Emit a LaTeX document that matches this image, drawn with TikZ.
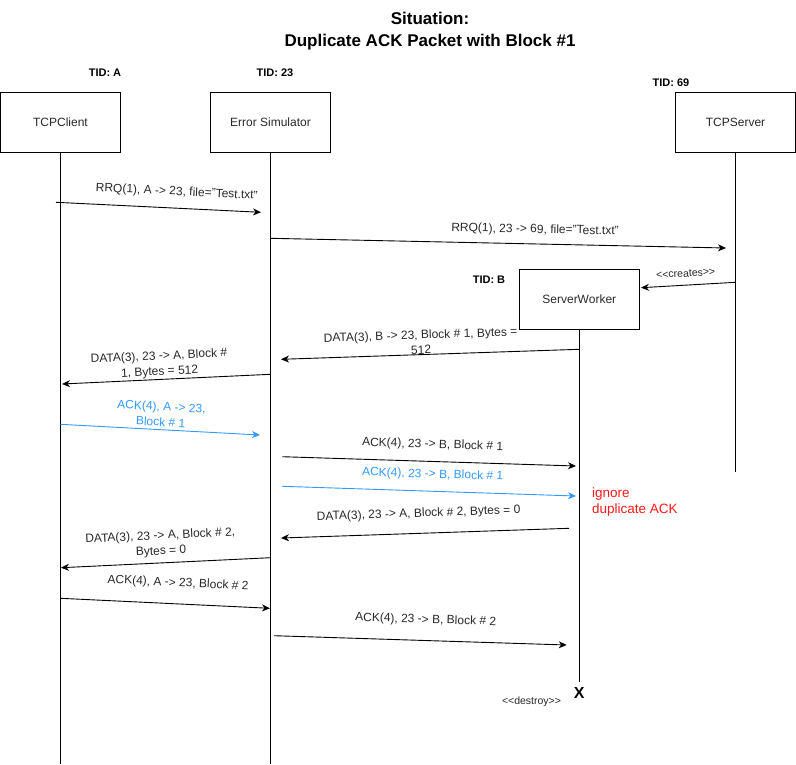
\documentclass[tikz,border=0pt]{standalone}
\usepackage{fontspec}
\setmainfont{Liberation Sans}
\usetikzlibrary{arrows.meta,positioning}

\definecolor{ackblue}{RGB}{51,153,255}
\definecolor{ignred}{RGB}{255,26,26}
\definecolor{txtgray}{RGB}{40,40,40}

\begin{document}
\begin{tikzpicture}[
      x=1pt, y=-1pt,
      obj/.style={rectangle,draw,line width=0.9pt,minimum width=120pt,minimum height=60pt,
        inner sep=0pt,font=\fontsize{12}{14}\selectfont,text=txtgray},
      tid/.style={font=\fontsize{11}{13}\selectfont\bfseries},
      life/.style={line width=0.9pt},
      msg/.style={line width=0.9pt,-{Stealth[length=8pt,width=7pt,inset=2.5pt]}},
      lbl/.style={sloped,align=center,inner sep=0pt,font=\fontsize{12}{15.5}\selectfont,text=txtgray},
      small/.style={font=\fontsize{10.5}{12}\selectfont,text=txtgray,inner sep=0pt}
    ]
    \useasboundingbox (0,0) rectangle (796,764);

    % Title
    \node[align=center,font=\fontsize{17}{22}\selectfont\bfseries] (title) at (430,31)
      {Situation:\\Duplicate ACK Packet with Block \#1};

    % Participants
    \node[obj] (client) at (60.5,122) {TCPClient};
    \node[obj] (sim) at (270.5,122) {Error Simulator};
    \node[obj] (server) at (735.5,122) {TCPServer};
    \node[obj] (worker) at (579.3,299) {ServerWorker};

    \node[tid] (tidA) at (105,73) {TID: A};
    \node[tid] (tid23) at (275,73) {TID: 23};
    \node[tid] (tid69) at (671,83) {TID: 69};
    \node[tid] (tidB) at (489,280) {TID: B};

    % Lifelines
    \coordinate (clientEnd) at (60.5,764);
    \coordinate (simEnd) at (270.5,764);
    \coordinate (serverEnd) at (735.5,472);
    \coordinate (workerEnd) at (579.3,682);
    \draw[life] (client.south) -- (clientEnd);
    \draw[life] (sim.south) -- (simEnd);
    \draw[life] (server.south) -- (serverEnd);
    \draw[life] (worker.south) -- (workerEnd);

    % Read request
    \coordinate (m1a) at (56,202.3);   \coordinate (m1b) at (261,212.3);
    \draw[msg] (m1a) -- node[lbl,pos=0.585,yshift=16pt]{RRQ(1), A -> 23, file="Test.txt"} (m1b);
    \coordinate (m2a) at (270.5,238.3); \coordinate (m2b) at (726,248);
    \draw[msg] (m2a) -- node[lbl,pos=0.58,yshift=14pt]{RRQ(1), 23 -> 69, file="Test.txt"} (m2b);
    \coordinate (m3a) at (735.5,282.3); \coordinate (m3b) at (641,287.7);
    \draw[msg] (m3a) -- node[small,sloped,pos=0.52,yshift=11.5pt]{{<}{<}creates{>}{>}} (m3b);

    % First data block
    \coordinate (m4a) at (579.3,349.3); \coordinate (m4b) at (281,359.3);
    \draw[msg] (m4a) -- node[lbl,pos=0.53,yshift=12.5pt,font=\fontsize{12}{15}\selectfont]
      {DATA(3), B -> 23, Block \# 1, Bytes =\\512} (m4b);
    \coordinate (m5a) at (270.5,374.3); \coordinate (m5b) at (62,384);
    \draw[msg] (m5a) -- node[lbl,pos=0.53,yshift=15pt]{DATA(3), 23 -> A, Block \#\\1, Bytes = 512} (m5b);

    % Acknowledgements, one duplicated
    \coordinate (m6a) at (60.5,424.3); \coordinate (m6b) at (260,435);
    \draw[msg,ackblue] (m6a) -- node[lbl,text=ackblue,pos=0.5,yshift=15.5pt]{ACK(4), A -> 23,\\Block \# 1} (m6b);
    \coordinate (m7a) at (282.3,456.7); \coordinate (m7b) at (576,466);
    \draw[msg] (m7a) -- node[lbl,pos=0.51,yshift=16.5pt]{ACK(4), 23 -> B, Block \# 1} (m7b);
    \coordinate (m8a) at (282.3,486.3); \coordinate (m8b) at (576,496);
    \draw[msg,ackblue] (m8a) -- node[lbl,text=ackblue,pos=0.51,yshift=16.5pt]{ACK(4), 23 -> B, Block \# 1} (m8b);

    \node[anchor=west,align=left,inner sep=0pt,text=ignred,font=\fontsize{13.5}{16}\selectfont] (ignore)
      at (592,502) {ignore\\duplicate ACK};

    % Last data block
    \coordinate (m9a) at (569,528.3); \coordinate (m9b) at (281,538);
    \draw[msg] (m9a) -- node[lbl,pos=0.52,yshift=19.5pt]{DATA(3), 23 -> A, Block \# 2, Bytes = 0} (m9b);
    \coordinate (m10a) at (270.5,557.7); \coordinate (m10b) at (61,567.7);
    \draw[msg] (m10a) -- node[lbl,pos=0.52,yshift=19pt]{DATA(3), 23 -> A, Block \# 2,\\Bytes = 0} (m10b);
    \coordinate (m11a) at (60.5,598.3); \coordinate (m11b) at (270,608.3);
    \draw[msg] (m11a) -- node[lbl,pos=0.556,yshift=20.5pt]{ACK(4), A -> 23, Block \# 2} (m11b);
    \coordinate (m12a) at (274,635.7); \coordinate (m12b) at (566.7,645);
    \draw[msg] (m12a) -- node[lbl,pos=0.516,yshift=20.5pt]{ACK(4), 23 -> B, Block \# 2} (m12b);

    % Worker ends
    \node[font=\fontsize{16}{18}\selectfont\bfseries,inner sep=0pt] (xmark) at (579.3,692.7) {X};
    \node[small] (destroy) at (531.5,702) {{<}{<}destroy{>}{>}};

  \end{tikzpicture}
\end{document}
